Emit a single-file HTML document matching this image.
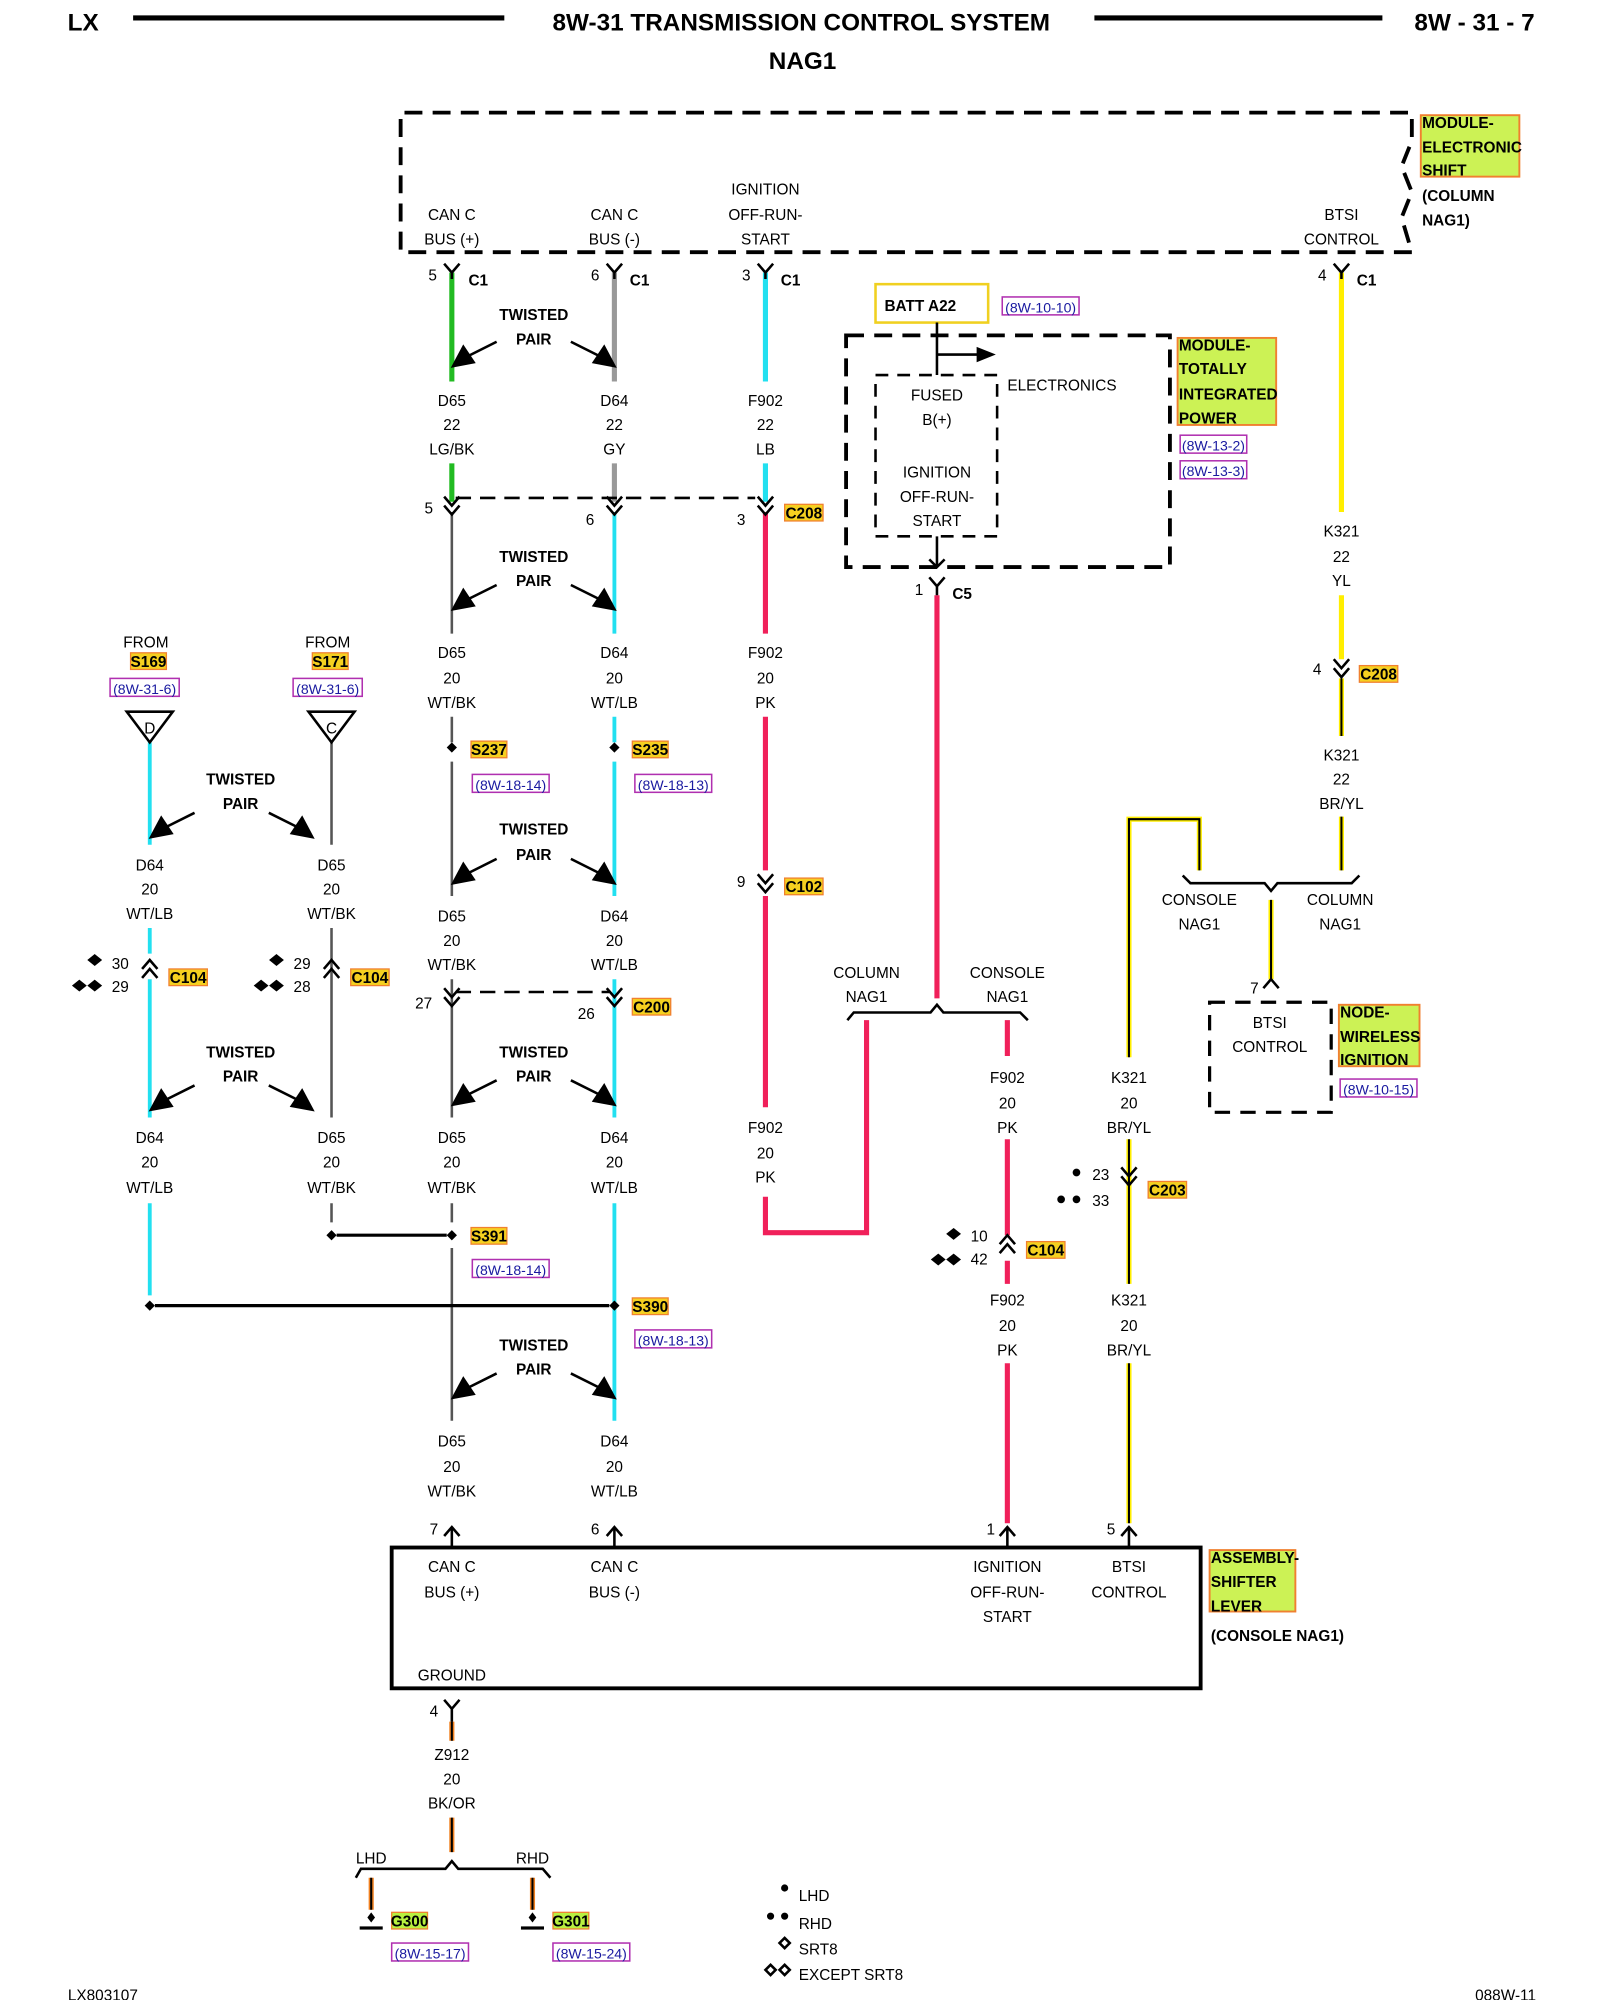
<!DOCTYPE html>
<html><head><meta charset="utf-8"><style>
html,body{margin:0;padding:0;background:#fff}
svg{display:block}
text{font-family:"Liberation Sans",sans-serif;font-size:12px;fill:#000;text-anchor:middle}
.b{font-weight:bold}
.l{text-anchor:start}
.h{font-size:19px;font-weight:bold}
.ref{fill:#1a1aa0;font-size:11px}
</style></head><body>
<svg width="1600" height="2000" viewBox="0 0 1250 1562.5" xmlns="http://www.w3.org/2000/svg">
<!-- header -->
<text x="65" y="24" class="h">LX</text>
<line x1="104" y1="14" x2="394" y2="14" stroke="#000" stroke-width="4"/>
<text x="626" y="24" class="h">8W-31 TRANSMISSION CONTROL SYSTEM</text>
<line x1="855" y1="14" x2="1080" y2="14" stroke="#000" stroke-width="4"/>
<text x="1152" y="24" class="h">8W - 31 - 7</text>
<text x="627" y="54" class="h">NAG1</text>

<!-- top module -->
<path d="M1103,197 L313,197 L313,88 L1103,88 L1103,110 L1095,130 L1103,150 L1095,170 L1103,197" fill="none" stroke="#000" stroke-width="3" stroke-dasharray="14,8"/>
<rect x="1110" y="90" width="77" height="48" fill="#ccf255" stroke="#f08030" stroke-width="1.5"/>
<g class="b"><text x="1111" y="100" class="l b">MODULE-</text><text x="1111" y="119" class="l b">ELECTRONIC</text><text x="1111" y="137" class="l b">SHIFT</text><text x="1111" y="157" class="l b">(COLUMN</text><text x="1111" y="176" class="l b">NAG1)</text></g>
<text x="353" y="172">CAN C</text><text x="353" y="191">BUS (+)</text>
<text x="480" y="172">CAN C</text><text x="480" y="191">BUS (-)</text>
<text x="598" y="152">IGNITION</text><text x="598" y="172">OFF-RUN-</text><text x="598" y="191">START</text>
<text x="1048" y="172">BTSI</text><text x="1048" y="191">CONTROL</text>

<!-- wires -->
<g fill="none" stroke-width="4">
<line x1="353" y1="213" x2="353" y2="298" stroke="#22bb22"/>
<line x1="353" y1="362" x2="353" y2="392" stroke="#22bb22"/>
<line x1="480" y1="213" x2="480" y2="298" stroke="#999"/>
<line x1="480" y1="362" x2="480" y2="392" stroke="#999"/>
<line x1="598" y1="213" x2="598" y2="298" stroke="#22e0f0"/>
<line x1="598" y1="362" x2="598" y2="392" stroke="#22e0f0"/>
<line x1="1048" y1="213" x2="1048" y2="400" stroke="#ffee00"/>
<line x1="1048" y1="465" x2="1048" y2="515" stroke="#ffee00"/>
<path d="M480,400V495M480,560V580M480,595V700M480,765V873M480,940V1110" stroke="#22e0f0" stroke-width="3"/>
<path d="M117,580V660M117,725V745M117,765V873M117,940V1012" stroke="#22e0f0" stroke-width="3"/>
<path d="M598,400V495M598,560V680M598,700V865M598,935V963H677V797" stroke="#f0205a"/>
<path d="M732,465V780" stroke="#f0205a"/>
<path d="M787,797V825M787,890V965M787,985V1003M787,1065V1190" stroke="#f0205a"/>
</g>
<g fill="none" stroke="#555" stroke-width="2">
<path d="M353,400V495M353,560V580M353,595V700M353,765V873M353,940V955M353,975V1110"/>
<path d="M259,580V660M259,725V873M259,940V955"/>
</g>
<g fill="none">
<path d="M1048,530V575M1048,638V680M937,680V640H882V826M882,890V1003M882,1065V1190M993,703V765" stroke="#ffee00" stroke-width="4"/>
<path d="M1048,530V575M1048,638V680M937,680V640H882V826M882,890V1003M882,1065V1190M993,703V765" stroke="#000" stroke-width="1.6"/>
<path d="M353,1345V1360M353,1420V1447M290,1467V1492M416,1467V1492" stroke="#f08020" stroke-width="4"/>
<path d="M353,1345V1360M353,1420V1447M290,1467V1492M416,1467V1492" stroke="#000" stroke-width="1.6"/>
</g>

<!-- connectors -->
<g fill="none" stroke="#000" stroke-width="2">
<path d="M347,206L353,213L359,206M353,213V218"/>
<path d="M474,206L480,213L486,206M480,213V218"/>
<path d="M592,206L598,213L604,206M598,213V218"/>
<path d="M1042,206L1048,213L1054,206M1048,213V218"/>
<path d="M726,451L732,458L738,451M732,458V465"/>
<path d="M347,388L353,395L359,388M347,395L353,402L359,395"/>
<path d="M474,388L480,395L486,388M474,395L480,402L486,395"/>
<path d="M592,388L598,395L604,388M592,395L598,402L604,395"/>
<path d="M356,389H590" stroke-dasharray="12,7"/>
<path d="M1042,515L1048,522L1054,515M1042,522L1048,529L1054,522"/>
<path d="M592,683L598,690L604,683M592,690L598,697L604,690"/>
<path d="M347,772L353,779L359,772M347,779L353,786L359,779"/>
<path d="M474,772L480,779L486,772M474,779L480,786L486,779"/>
<path d="M356,775H476" stroke-dasharray="12,7"/>
<path d="M876,912L882,919L888,912M876,919L882,926L888,919"/>
<path d="M111,757L117,750L123,757M111,764L117,757L123,764"/>
<path d="M253,757L259,750L265,757M253,764L259,757L265,764"/>
<path d="M781,972L787,965L793,972M781,979L787,972L793,979"/>
<path d="M347,1200L353,1193L359,1200M474,1200L480,1193L486,1200M781,1200L787,1193L793,1200M876,1200L882,1193L888,1200"/>
<path d="M353,1193V1208M480,1193V1208M787,1193V1208M882,1193V1208"/>
<path d="M987,772L993,765L999,772"/>
<path d="M347,1328L353,1335L359,1328M353,1335V1345"/>
<path d="M662,797L667,791H727L732,785L737,791H797L803,797"/>
<path d="M924,684L930,690H988L993,696L998,690H1056L1062,684"/>
<path d="M278,1467L282,1460H348L353,1454L358,1460H424L430,1467"/>
<path d="M263,965H349" stroke-width="2.5"/>
<path d="M121,1020H476" stroke-width="2.5"/>
</g>
<g fill="#000">
<path d="M353,580l4,4-4,4-4-4z M480,580l4,4-4,4-4-4z M259,961l4,4-4,4-4-4z M353,961l4,4-4,4-4-4z M117,1016l4,4-4,4-4-4z M480,1016l4,4-4,4-4-4z"/>
</g>

<g>
<text x="417" y="250" class="b">TWISTED</text><text x="417" y="269" class="b">PAIR</text>
<text x="417" y="439" class="b">TWISTED</text><text x="417" y="458" class="b">PAIR</text>
<text x="417" y="652" class="b">TWISTED</text><text x="417" y="672" class="b">PAIR</text>
<text x="417" y="826" class="b">TWISTED</text><text x="417" y="845" class="b">PAIR</text>
<text x="417" y="1055" class="b">TWISTED</text><text x="417" y="1074" class="b">PAIR</text>
<text x="188" y="613" class="b">TWISTED</text><text x="188" y="632" class="b">PAIR</text>
<text x="188" y="826" class="b">TWISTED</text><text x="188" y="845" class="b">PAIR</text>
</g>
<g stroke="#000" stroke-width="2" fill="#000">
<g id="a1"><line x1="388" y1="267" x2="366" y2="278"/><path d="M354,286L362,271L370,283z"/><line x1="446" y1="267" x2="468" y2="278"/><path d="M480,286L464,283L472,271z"/></g>
<use href="#a1" y="190"/><use href="#a1" y="404"/><use href="#a1" y="577"/><use href="#a1" y="806"/>
<use href="#a1" x="-236" y="368"/><use href="#a1" x="-236" y="581"/>
</g>

<g>
<text x="353" y="317">D65</text><text x="353" y="336">22</text><text x="353" y="355">LG/BK</text>
<text x="480" y="317">D64</text><text x="480" y="336">22</text><text x="480" y="355">GY</text>
<text x="598" y="317">F902</text><text x="598" y="336">22</text><text x="598" y="355">LB</text>
<text x="353" y="514">D65</text><text x="353" y="534">20</text><text x="353" y="553">WT/BK</text>
<text x="480" y="514">D64</text><text x="480" y="534">20</text><text x="480" y="553">WT/LB</text>
<text x="598" y="514">F902</text><text x="598" y="534">20</text><text x="598" y="553">PK</text>
<text x="353" y="720">D65</text><text x="353" y="739">20</text><text x="353" y="758">WT/BK</text>
<text x="480" y="720">D64</text><text x="480" y="739">20</text><text x="480" y="758">WT/LB</text>
<text x="117" y="680">D64</text><text x="117" y="699">20</text><text x="117" y="718">WT/LB</text>
<text x="259" y="680">D65</text><text x="259" y="699">20</text><text x="259" y="718">WT/BK</text>
<text x="117" y="893">D64</text><text x="117" y="912">20</text><text x="117" y="932">WT/LB</text>
<text x="259" y="893">D65</text><text x="259" y="912">20</text><text x="259" y="932">WT/BK</text>
<text x="353" y="893">D65</text><text x="353" y="912">20</text><text x="353" y="932">WT/BK</text>
<text x="480" y="893">D64</text><text x="480" y="912">20</text><text x="480" y="932">WT/LB</text>
<text x="598" y="885">F902</text><text x="598" y="905">20</text><text x="598" y="924">PK</text>
<text x="353" y="1130">D65</text><text x="353" y="1150">20</text><text x="353" y="1169">WT/BK</text>
<text x="480" y="1130">D64</text><text x="480" y="1150">20</text><text x="480" y="1169">WT/LB</text>
<text x="1048" y="419">K321</text><text x="1048" y="439">22</text><text x="1048" y="458">YL</text>
<text x="1048" y="594">K321</text><text x="1048" y="613">22</text><text x="1048" y="632">BR/YL</text>
<text x="787" y="846">F902</text><text x="787" y="866">20</text><text x="787" y="885">PK</text>
<text x="882" y="846">K321</text><text x="882" y="866">20</text><text x="882" y="885">BR/YL</text>
<text x="787" y="1020">F902</text><text x="787" y="1040">20</text><text x="787" y="1059">PK</text>
<text x="882" y="1020">K321</text><text x="882" y="1040">20</text><text x="882" y="1059">BR/YL</text>
<text x="353" y="1375">Z912</text><text x="353" y="1394">20</text><text x="353" y="1413">BK/OR</text>
<text x="677" y="764">COLUMN</text><text x="677" y="783">NAG1</text>
<text x="787" y="764">CONSOLE</text><text x="787" y="783">NAG1</text>
<text x="937" y="707">CONSOLE</text><text x="937" y="726">NAG1</text>
<text x="1047" y="707">COLUMN</text><text x="1047" y="726">NAG1</text>
<text x="290" y="1456">LHD</text><text x="416" y="1456">RHD</text>
</g>
<g font-size="11">
<text x="338" y="219">5</text><text x="465" y="219">6</text><text x="583" y="219">3</text><text x="1033" y="219">4</text>
<text x="335" y="401">5</text><text x="461" y="410">6</text><text x="579" y="410">3</text>
<text x="1029" y="527">4</text><text x="579" y="693">9</text><text x="718" y="465">1</text>
<text x="331" y="788">27</text><text x="458" y="796">26</text>
<text x="94" y="757">30</text><text x="94" y="775">29</text>
<text x="236" y="757">29</text><text x="236" y="775">28</text>
<text x="765" y="970">10</text><text x="765" y="988">42</text>
<text x="860" y="922">23</text><text x="860" y="942">33</text>
<text x="339" y="1199">7</text><text x="465" y="1199">6</text><text x="774" y="1199">1</text><text x="868" y="1199">5</text>
<text x="339" y="1341">4</text><text x="980" y="776">7</text>
</g>
<g fill="#000" stroke="#000" stroke-width="1">
<path d="M74,746l5,4-5,4-5-4z M62,766l5,4-5,4-5-4z M74,766l5,4-5,4-5-4z"/>
<path d="M216,746l5,4-5,4-5-4z M204,766l5,4-5,4-5-4z M216,766l5,4-5,4-5-4z"/>
<path d="M745,960l5,4-5,4-5-4z M733,980l5,4-5,4-5-4z M745,980l5,4-5,4-5-4z"/>
<circle cx="841" cy="916" r="2.5"/><circle cx="829" cy="937" r="2.5"/><circle cx="841" cy="937" r="2.5"/>
</g>

<g font-size="11">
<text x="366" y="223" class="l b">C1</text><text x="492" y="223" class="l b">C1</text><text x="610" y="223" class="l b">C1</text><text x="1060" y="223" class="l b">C1</text>
<text x="744" y="468" class="l b">C5</text>
</g>
<g>
<g font-size="11">
<rect x="613" y="394" width="30" height="13" fill="#f5d020" stroke="#f08030"/><text x="628" y="405" class="b" font-size="11">C208</text>
<rect x="1062" y="520" width="30" height="13" fill="#f5d020" stroke="#f08030"/><text x="1077" y="531" class="b" font-size="11">C208</text>
<rect x="613" y="686" width="30" height="13" fill="#f5d020" stroke="#f08030"/><text x="628" y="697" class="b" font-size="11">C102</text>
<rect x="132" y="757" width="30" height="13" fill="#f5d020" stroke="#f08030"/><text x="147" y="768" class="b" font-size="11">C104</text>
<rect x="274" y="757" width="30" height="13" fill="#f5d020" stroke="#f08030"/><text x="289" y="768" class="b" font-size="11">C104</text>
<rect x="494" y="780" width="30" height="13" fill="#f5d020" stroke="#f08030"/><text x="509" y="791" class="b" font-size="11">C200</text>
<rect x="802" y="970" width="30" height="13" fill="#f5d020" stroke="#f08030"/><text x="817" y="981" class="b" font-size="11">C104</text>
<rect x="897" y="923" width="30" height="13" fill="#f5d020" stroke="#f08030"/><text x="912" y="934" class="b" font-size="11">C203</text>
<rect x="368" y="579" width="28" height="13" fill="#f5d020" stroke="#f08030"/><text x="382" y="590" class="b" font-size="11">S237</text>
<rect x="494" y="579" width="28" height="13" fill="#f5d020" stroke="#f08030"/><text x="508" y="590" class="b" font-size="11">S235</text>
<rect x="368" y="959" width="28" height="13" fill="#f5d020" stroke="#f08030"/><text x="382" y="970" class="b" font-size="11">S391</text>
<rect x="494" y="1014" width="28" height="13" fill="#f5d020" stroke="#f08030"/><text x="508" y="1025" class="b" font-size="11">S390</text>
<rect x="102" y="510" width="28" height="13" fill="#f5d020" stroke="#f08030"/><text x="116" y="521" class="b" font-size="11">S169</text>
<rect x="244" y="510" width="28" height="13" fill="#f5d020" stroke="#f08030"/><text x="258" y="521" class="b" font-size="11">S171</text>
<rect x="306" y="1494" width="28" height="13" fill="#b8f040" stroke="#f08030"/><text x="320" y="1505" class="b" font-size="11">G300</text>
<rect x="432" y="1494" width="28" height="13" fill="#b8f040" stroke="#f08030"/><text x="446" y="1505" class="b" font-size="11">G301</text>
</g>
<g fill="none" stroke="#b030b0" stroke-width="1.2">
<rect x="783" y="232" width="60" height="14"/><rect x="922" y="340" width="52" height="14"/><rect x="922" y="360" width="52" height="14"/>
<rect x="86" y="530" width="54" height="14"/><rect x="229" y="530" width="54" height="14"/>
<rect x="369" y="605" width="60" height="14"/><rect x="496" y="605" width="60" height="14"/>
<rect x="369" y="984" width="60" height="14"/><rect x="496" y="1039" width="60" height="14"/>
<rect x="1047" y="843" width="60" height="14"/>
<rect x="306" y="1518" width="60" height="14"/><rect x="432" y="1518" width="60" height="14"/>
</g>
<g>
<text x="813" y="244" class="ref">(8W-10-10)</text><text x="948" y="352" class="ref">(8W-13-2)</text><text x="948" y="372" class="ref">(8W-13-3)</text>
<text x="113" y="542" class="ref">(8W-31-6)</text><text x="256" y="542" class="ref">(8W-31-6)</text>
<text x="399" y="617" class="ref">(8W-18-14)</text><text x="526" y="617" class="ref">(8W-18-13)</text>
<text x="399" y="996" class="ref">(8W-18-14)</text><text x="526" y="1051" class="ref">(8W-18-13)</text>
<text x="1077" y="855" class="ref">(8W-10-15)</text>
<text x="336" y="1530" class="ref">(8W-15-17)</text><text x="462" y="1530" class="ref">(8W-15-24)</text>
</g>
</g>

<text x="114" y="506">FROM</text><text x="256" y="506">FROM</text>
<g fill="none" stroke="#000" stroke-width="2">
<path d="M99,556H135L117,580Z"/><path d="M241,556H277L259,580Z"/>
</g>
<text x="117" y="573">D</text><text x="259" y="573">C</text>

<rect x="684" y="222" width="88" height="30" fill="none" stroke="#f0d020" stroke-width="2"/>
<text x="691" y="243" class="l b" font-size="11">BATT A22</text>
<rect x="661" y="262" width="253" height="181" fill="none" stroke="#000" stroke-width="3" stroke-dasharray="14,8"/>
<rect x="684" y="293" width="95" height="126" fill="none" stroke="#000" stroke-width="2" stroke-dasharray="10,7"/>
<g stroke="#000" stroke-width="2" fill="none"><path d="M732,252V293M732,277H765M732,419V443M726,437L732,443L738,437"/></g>
<path d="M763,271L778,277L763,283Z" fill="#000"/>
<text x="787" y="305" class="l">ELECTRONICS</text>
<text x="732" y="313">FUSED</text><text x="732" y="332">B(+)</text>
<text x="732" y="373">IGNITION</text><text x="732" y="392">OFF-RUN-</text><text x="732" y="411">START</text>
<rect x="920" y="264" width="77" height="68" fill="#ccf255" stroke="#f08030" stroke-width="1.5"/>
<text x="921" y="274" class="l b">MODULE-</text><text x="921" y="292" class="l b">TOTALLY</text><text x="921" y="312" class="l b">INTEGRATED</text><text x="921" y="331" class="l b">POWER</text>

<rect x="945" y="783" width="95" height="86" fill="none" stroke="#000" stroke-width="2.5" stroke-dasharray="12,8"/>
<text x="992" y="803">BTSI</text><text x="992" y="822">CONTROL</text>
<rect x="1046" y="785" width="63" height="48" fill="#ccf255" stroke="#f08030" stroke-width="1.5"/>
<text x="1047" y="795" class="l b">NODE-</text><text x="1047" y="814" class="l b">WIRELESS</text><text x="1047" y="832" class="l b">IGNITION</text>

<rect x="306" y="1209" width="632" height="110" fill="none" stroke="#000" stroke-width="3"/>
<text x="353" y="1228">CAN C</text><text x="353" y="1248">BUS (+)</text>
<text x="480" y="1228">CAN C</text><text x="480" y="1248">BUS (-)</text>
<text x="787" y="1228">IGNITION</text><text x="787" y="1248">OFF-RUN-</text><text x="787" y="1267">START</text>
<text x="882" y="1228">BTSI</text><text x="882" y="1248">CONTROL</text>
<text x="353" y="1313">GROUND</text>
<rect x="945" y="1211" width="67" height="48" fill="#ccf255" stroke="#f08030" stroke-width="1.5"/>
<text x="946" y="1221" class="l b">ASSEMBLY-</text><text x="946" y="1240" class="l b">SHIFTER</text><text x="946" y="1259" class="l b">LEVER</text>
<text x="946" y="1282" class="l b">(CONSOLE NAG1)</text>

<g fill="#000">
<path d="M290,1494l3,4-3,4-3-4z"/><rect x="281" y="1505" width="18" height="2.5"/>
<path d="M416,1494l3,4-3,4-3-4z"/><rect x="407" y="1505" width="18" height="2.5"/>
</g>

<g fill="#000" stroke="#000">
<circle cx="613" cy="1475" r="2.3"/>
<circle cx="602" cy="1497" r="2.3"/><circle cx="613" cy="1497" r="2.3"/>
<path d="M613,1514l4,4-4,4-4-4z" fill="none" stroke-width="2"/>
<path d="M602,1535l4,4-4,4-4-4z M613,1535l4,4-4,4-4-4z" fill="none" stroke-width="2"/>
</g>
<text x="624" y="1485" class="l">LHD</text><text x="624" y="1507" class="l">RHD</text>
<text x="624" y="1527" class="l">SRT8</text><text x="624" y="1547" class="l">EXCEPT SRT8</text>

<text x="53" y="1563" class="l" font-size="11">LX803107</text>
<text x="1200" y="1563" font-size="11" style="text-anchor:end">088W-11</text>
</svg>
</body></html>
